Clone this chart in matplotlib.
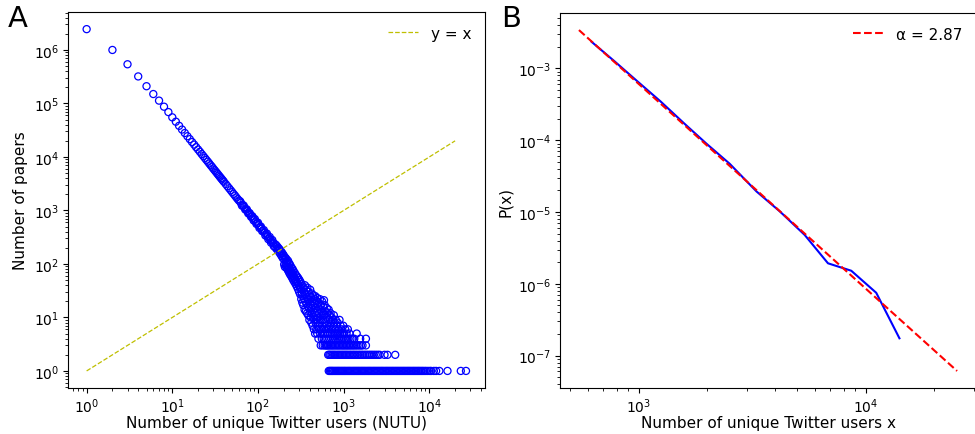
import matplotlib
matplotlib.use('Agg')
import matplotlib.pyplot as plt

# ---- panel A: number of papers per NUTU value ----
curve_x = [1, 2, 3, 4, 5, 6, 7, 8, 9, 10,
           11, 12, 13, 14, 15, 16, 17, 18, 19, 20,
           21, 22, 23, 24, 25, 26, 27, 28, 29, 30,
           31, 32, 33, 34, 35, 36, 37, 38, 39, 40,
           42, 44, 46, 48, 50, 52, 54, 56, 58, 60,
           62, 63, 65, 66, 68, 69, 71, 72, 74, 75, 77, 78, 80, 81, 83, 84, 86, 87, 89, 90,
           92, 94, 96, 98, 100, 102, 104, 106, 108, 110, 112, 115, 117, 120, 122, 125,
           127, 130, 132, 135, 137, 140, 142, 145, 147,
           150, 153, 156, 159, 162, 165, 168, 171, 174, 177, 180, 183, 186, 189, 192, 195, 198]
curve_y = [2450000, 1000000, 540000, 320000, 210000, 150000, 113000, 87000, 69000, 55000,
           45600, 38200, 32500, 28000, 24400, 21500, 19000, 17000, 15200, 13750,
           12500, 11350, 10400, 9550, 8800, 8150, 7550, 7000, 6550, 6100,
           5720, 5370, 5050, 4760, 4490, 4240, 4020, 3810, 3620, 3440,
           3120, 2840, 2600, 2390, 2200, 2030, 1890, 1750, 1630, 1530,
           1480, 1390, 1230, 1260, 1240, 1155, 1040, 1060, 1050, 980, 880, 905, 890, 840, 760, 780, 780, 727, 650, 680,
           690, 622, 560, 573, 590, 529, 470, 490, 500, 455, 410, 416, 430, 382, 340, 352,
           370, 325, 290, 302, 320, 281, 250, 262, 280,
           250, 215, 238, 205, 228, 190, 212, 178, 198, 165, 185, 152, 172, 140, 160, 128, 148]

cloud_x = [200, 202, 204, 206, 208, 210, 212, 214, 216, 218, 220, 222, 224, 226, 228, 230,
           232, 234, 236, 238, 240, 242, 244, 246, 248, 250, 252, 254, 256, 258, 260, 263,
           266, 269, 272, 275, 278, 281, 284, 287, 290, 293, 296, 299, 302, 305, 308, 311, 314,
           317, 320, 323, 326, 329, 332, 335, 338, 341, 344, 347, 350, 353, 356, 359, 362,
           365, 368, 371, 374, 377, 380, 383, 386, 389, 392, 395, 398, 401, 404, 407, 410,
           413, 416, 419, 422, 425, 428, 431, 434, 437, 440, 443, 446, 449, 452, 455, 458,
           461, 464, 467, 470, 473, 476, 479, 482, 485, 488, 491, 494, 497, 500, 504, 508,
           512, 516, 520, 524, 528, 532, 536, 540,
           544, 548, 552, 556, 560, 564, 568, 572, 576, 580, 585, 590, 590, 595, 600, 605,
           610, 615, 620, 625, 630, 635, 640, 645, 650, 656, 662, 668, 674, 680, 686, 692,
           698, 704, 710, 717, 724, 731, 738, 745, 752, 760, 768, 776, 784, 792, 800, 810,
           820, 830, 840, 850, 861, 872, 883, 895, 907, 920, 933, 947, 961, 976, 991, 1007,
           1024, 1042, 1061, 1081, 1102, 1120, 1145, 1170, 1200, 1260, 1330, 1420, 1560, 1820]
cloud_y = [142, 98, 120, 88, 132, 105, 92, 125, 84, 110, 96, 78, 115, 88, 72, 104,
           82, 66, 98, 76, 62, 90, 70, 58, 84, 66, 54, 80, 60, 50, 74, 56,
           46, 68, 52, 42, 62, 48, 38, 58, 44, 34, 54, 40, 30, 50, 37, 27, 46,
           34, 22, 42, 28, 19, 38, 25, 17, 35, 22, 30, 14, 40, 20, 27, 13,
           33, 18, 24, 12, 36, 16, 22, 11, 30, 15, 20, 9, 26, 13, 33, 18,
           10, 24, 8, 15, 28, 12, 20, 7, 17, 26, 10, 14, 6, 22, 9, 18,
           12, 5, 25, 8, 15, 11, 6, 20, 9, 13, 5, 23, 7, 16, 10, 4,
           19, 6, 12, 8, 22, 5, 14, 9,
           17, 6, 11, 4, 20, 7, 13, 5, 9, 16, 4, 11, 21, 6, 17, 8,
           5, 13, 4, 10, 6, 15, 7, 4, 12, 5, 9, 14, 6, 4, 11, 7,
           5, 12, 8, 4, 10, 6, 5, 9, 4, 7, 11, 5, 8, 4, 6, 9,
           5, 7, 4, 8, 5, 6, 4, 9, 5, 7, 4, 6, 5, 4, 7, 5,
           4, 6, 4, 5, 4, 6, 4, 5, 4, 4, 4, 5, 4, 4]

# NUTU values that have exactly 3, 2 and 1 papers
three_x = [540, 570, 600, 620, 640, 660, 685, 710, 735, 760, 790, 820, 850, 880, 915,
           950, 985, 1020, 1060, 1100, 1140, 1185, 1230, 1280, 1330, 1390, 1450, 1520,
           1590, 1660, 1820]
two_x = [660, 680, 700, 725, 750, 775, 800, 830, 860, 890, 920, 955, 990, 1025, 1060,
         1100, 1140, 1185, 1230, 1280, 1330, 1380, 1440, 1500, 1560, 1630, 1700, 1780,
         1860, 1950, 2040, 2140, 2250, 2370, 2500, 2630, 3000, 3250, 4000]
one_x = [670, 690, 710, 730, 750, 775, 800, 825, 850, 875, 900, 930, 960, 990, 1020,
         1050, 1085, 1120, 1155, 1190, 1230, 1270, 1310, 1350, 1395, 1440, 1485, 1530,
         1580, 1630, 1680, 1735, 1790, 1850, 1910, 1970, 2030, 2100, 2170, 2240, 2310,
         2390, 2470, 2550, 2630, 2720, 2810, 2900, 3000, 3100, 3200, 3310, 3420, 3530,
         3650, 3770, 3900, 4030, 4160, 4300, 4450, 4600, 4750, 4910, 5080, 5250, 5430,
         5610, 5800, 6000, 6200, 6420, 6640, 6870, 7100, 7350, 7600, 7870, 8150, 8450,
         8800, 9150, 9600, 10100, 10500, 11300, 12000, 13100, 16300, 23300, 26800]

ref_line = [1, 20000]

# ---- panel B: binned pdf and power-law fit ----
pdf_x = [620, 783, 989, 1250, 1580, 1995, 2520, 3310, 4190, 5390, 6830, 8650, 11140, 14100]
pdf_y = [2.36e-3, 1.26e-3, 6.6e-4, 3.47e-4, 1.74e-4, 8.9e-5, 4.7e-5, 1.93e-5, 1.02e-5,
         4.8e-6, 1.93e-6, 1.52e-6, 7.5e-7, 1.74e-7]
fit_x = [546, 25300]
fit_y = [3.43e-3, 6.1e-8]

all_x = curve_x + cloud_x + three_x + two_x + one_x
all_y = curve_y + cloud_y + [3] * len(three_x) + [2] * len(two_x) + [1] * len(one_x)

fig = plt.figure(figsize=(9.75, 4.35), dpi=100)
ax1 = fig.add_axes([0.0694, 0.1057, 0.428, 0.8643])
ax2 = fig.add_axes([0.5744, 0.1057, 0.4266, 0.8621])

ax1.scatter(all_x, all_y, s=26, facecolors='none', edgecolors='b', linewidths=0.9)
ax1.plot(ref_line, ref_line, 'y--', lw=0.9, label='y = x')
ax1.set_xscale('log')
ax1.set_yscale('log')
ax1.set_xlabel('Number of unique Twitter users (NUTU)', fontsize=11, labelpad=0)
ax1.set_ylabel('Number of papers', fontsize=11)
ax1.tick_params(labelsize=10, pad=2.5)
ax1.legend(loc='upper right', frameon=False, fontsize=11)

ax2.plot(pdf_x, pdf_y, 'b-', lw=1.5)
ax2.plot(fit_x, fit_y, 'r--', lw=1.5, label='α = 2.87')
ax2.set_xscale('log')
ax2.set_yscale('log')
ax2.set_xlabel('Number of unique Twitter users x', fontsize=11, labelpad=0)
ax2.set_ylabel('P(x)', fontsize=11)
ax2.tick_params(labelsize=10, pad=2.5)
ax2.legend(loc='upper right', frameon=False, fontsize=11)

fig.text(0.008, 0.938, 'A', fontsize=21)
fig.text(0.5135, 0.938, 'B', fontsize=21)

fig.savefig('out.png', dpi=100)
